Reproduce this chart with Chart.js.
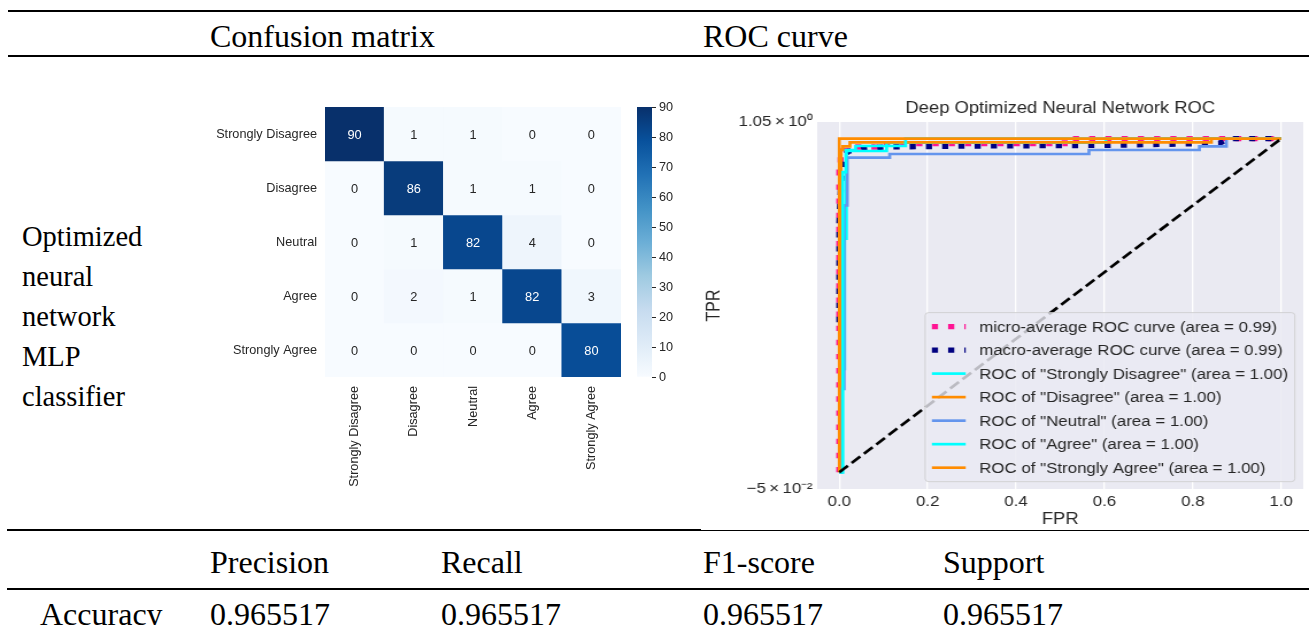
<!DOCTYPE html>
<html>
<head>
<meta charset="utf-8">
<script src="https://cdn.jsdelivr.net/npm/chart.js"></script>
<style>
html,body{margin:0;padding:0;background:#fff;}
body{width:1309px;height:625px;overflow:hidden;position:relative;font-family:"Liberation Serif","Times New Roman",serif;color:#000;}
.t{position:absolute;white-space:nowrap;line-height:1;}
.hl{position:absolute;background:#000;}
canvas{position:absolute;}
</style>
</head>
<body>
<canvas id="cm" width="421" height="400" style="left:200px;top:100px;width:421px;height:400px;"></canvas>
<canvas id="cb" width="60" height="400" style="left:630px;top:100px;width:60px;height:400px;"></canvas>
<canvas id="roc" width="530" height="440" style="left:700px;top:92px;width:609px;height:440px;"></canvas>
<script>
// ---------------- data ----------------
const CM_CLASSES = ['Strongly Disagree', 'Disagree', 'Neutral', 'Agree', 'Strongly Agree'];
const CM_VALUES = [
  [90, 1, 1, 0, 0],
  [0, 86, 1, 1, 0],
  [0, 1, 82, 4, 0],
  [0, 2, 1, 82, 3],
  [0, 0, 0, 0, 80]
];
const CB_TICKS = [0, 10, 20, 30, 40, 50, 60, 70, 80, 90];

const ROC_X_TICKS = [0, 0.2, 0.4, 0.6, 0.8, 1.0];
const ROC_Y_TICKS = [-0.05, 1.05];
const ROC_Y_TICK_LABELS = ['\u22125\u2009\u00d7\u200910\u207b\u00b2', '1.05\u2009\u00d7\u200910\u2070'];

const MICRO_FPR = [0, 0, 0.003, 0.003, 0.01, 0.01, 0.03, 0.03, 0.08, 0.08, 0.51, 0.51, 1];
const MICRO_TPR = [0, 0.9, 0.9, 0.95, 0.95, 0.965, 0.965, 0.975, 0.975, 0.985, 0.985, 1, 1];
const MACRO_FPR = [0, 0, 0.005, 0.01, 0.02, 0.05, 0.1, 0.3, 0.6, 0.86, 0.88, 1];
const MACRO_TPR = [0.45, 0.75, 0.9, 0.945, 0.962, 0.97, 0.975, 0.978, 0.98, 0.986, 1, 1];
const SD_FPR = [0, 0.005, 0.005, 0.012, 0.012, 0.016, 0.016, 0.107, 0.107, 0.603, 0.603, 1];
const SD_TPR = [0, 0, 0.31, 0.31, 0.70, 0.70, 0.963, 0.963, 0.988, 0.988, 1, 1];
const D_FPR = [0, 0.004, 0.004, 0.008, 0.008, 0.024, 0.024, 0.842, 0.842, 1];
const D_TPR = [0, 0, 0.966, 0.966, 0.977, 0.977, 0.989, 0.989, 1, 1];
const N_FPR = [0, 0.006, 0.006, 0.011, 0.011, 0.018, 0.018, 0.114, 0.114, 0.565, 0.565, 0.815, 0.815, 0.876, 0.876, 1];
const N_TPR = [0, 0, 0.25, 0.25, 0.80, 0.80, 0.943, 0.943, 0.954, 0.954, 0.966, 0.966, 0.977, 0.977, 1, 1];
const A_FPR = [0, 0.008, 0.008, 0.015, 0.015, 0.037, 0.037, 0.15, 0.15, 1];
const A_TPR = [0, 0, 0.90, 0.90, 0.966, 0.966, 0.978, 0.978, 1, 1];
const SA_FPR = [0, 0, 1];
const SA_TPR = [0, 1, 1];
const CHANCE_FPR = [0, 1];
const CHANCE_TPR = [0, 1];

const ROC_LABELS = [
  'micro-average ROC curve (area = 0.99)',
  'macro-average ROC curve (area = 0.99)',
  'ROC of "Strongly Disagree" (area = 1.00)',
  'ROC of "Disagree" (area = 1.00)',
  'ROC of "Neutral" (area = 1.00)',
  'ROC of "Agree" (area = 1.00)',
  'ROC of "Strongly Agree" (area = 1.00)',
  ''
];
const ROC_FPRS = [MICRO_FPR, MACRO_FPR, SD_FPR, D_FPR, N_FPR, A_FPR, SA_FPR, CHANCE_FPR];
const ROC_TPRS = [MICRO_TPR, MACRO_TPR, SD_TPR, D_TPR, N_TPR, A_TPR, SA_TPR, CHANCE_TPR];

// ---------------- styles ----------------
const ROC_STYLES = [
  {color: '#ff1493', width: 5.33, dash: [5.33, 8.8]},
  {color: '#000080', width: 5.33, dash: [5.33, 8.8]},
  {color: '#00ffff', width: 2.67, dash: []},
  {color: '#ff8c00', width: 2.67, dash: []},
  {color: '#6495ed', width: 2.67, dash: []},
  {color: '#00ffff', width: 2.67, dash: []},
  {color: '#ff8c00', width: 2.67, dash: []},
  {color: '#000000', width: 2.67, dash: [9.9, 4.3]}
];
const BLUES = ['#f7fbff', '#deebf7', '#c6dbef', '#9ecae1', '#6baed6', '#4292c6', '#2171b5', '#08519c', '#08306b'];
const SANS = "'Liberation Sans', Arial, sans-serif";
const INK = '#262626';

// ---------------- table text & rules ----------------
function rule(x, y, w, h) {
  const d = document.createElement('div');
  d.className = 'hl';
  d.style.left = x + 'px'; d.style.top = y + 'px';
  d.style.width = w + 'px'; d.style.height = h + 'px';
  document.body.appendChild(d);
}
function text(str, x, baseline, size) {
  const d = document.createElement('div');
  d.className = 't';
  d.textContent = str;
  d.style.left = x + 'px';
  d.style.fontSize = size + 'px';
  d.style.top = (baseline - 0.8375 * size) + 'px';
  document.body.appendChild(d);
}
rule(8, 10, 1301, 2);
rule(8, 55, 1301, 2);
rule(7, 529, 694, 2);
rule(701, 530, 608, 1);
rule(7, 588, 1302, 2);

text('Confusion matrix', 210, 46.7, 32);
text('ROC curve', 703, 46.7, 32);
['Optimized', 'neural', 'network', 'MLP', 'classifier'].forEach((s, i) => text(s, 22, 246.7 + 40 * i, 28.5));
const METRIC_NAMES = ['Precision', 'Recall', 'F1-score', 'Support'];
const METRIC_VALUES = ['0.965517', '0.965517', '0.965517', '0.965517'];
const COL_X = [210, 441, 703, 943];
METRIC_NAMES.forEach((s, i) => text(s, COL_X[i], 572.7, 32));
text('Accuracy', 40, 624.3, 32);
METRIC_VALUES.forEach((s, i) => text(s, COL_X[i], 624.3, 32));

// ---------------- colormap helpers ----------------
function hexRgb(h) { return [1, 3, 5].map(i => parseInt(h.substr(i, 2), 16)); }
function bluesRgb(t) {
  t = Math.max(0, Math.min(1, t));
  const n = BLUES.length - 1;
  const p = t * n;
  const i = Math.min(Math.floor(p), n - 1);
  const f = p - i;
  const a = hexRgb(BLUES[i]), b = hexRgb(BLUES[i + 1]);
  return a.map((v, k) => Math.round(v + (b[k] - v) * f));
}
function rgbStr(c) { return 'rgb(' + c.join(',') + ')'; }
function lum(c) {
  const l = c.map(v => { v /= 255; return v <= 0.03928 ? v / 12.92 : Math.pow((v + 0.055) / 1.055, 2.4); });
  return 0.2126 * l[0] + 0.7152 * l[1] + 0.0722 * l[2];
}
const CB_MAX = CB_TICKS[CB_TICKS.length - 1];
const CB_MIN = CB_TICKS[0];

Chart.defaults.font.family = SANS;
Chart.defaults.color = INK;

function noPad(s) { s.paddingTop = 0; s.paddingBottom = 0; s.paddingLeft = 0; s.paddingRight = 0; }

// ---------------- confusion matrix heatmap ----------------
const cmAnnot = {
  id: 'cmAnnot',
  afterDatasetsDraw(chart) {
    const ctx = chart.ctx;
    ctx.save();
    ctx.font = '12.8px ' + SANS;
    ctx.textAlign = 'center';
    ctx.textBaseline = 'middle';
    chart.data.datasets.forEach((ds, di) => {
      const meta = chart.getDatasetMeta(di);
      meta.data.forEach((el, j) => {
        const v = ds.values[j];
        const c = bluesRgb((v - CB_MIN) / (CB_MAX - CB_MIN));
        ctx.fillStyle = lum(c) > 0.408 ? INK : '#ffffff';
        ctx.fillText(String(v), el.x, (el.y + el.base) / 2 + 1);
      });
    });
    ctx.restore();
  }
};

new Chart(document.getElementById('cm'), {
  type: 'bar',
  data: {
    labels: CM_CLASSES,
    datasets: CM_VALUES.map((row, r) => ({
      data: row.map(() => [r - 0.5, r + 0.5]),
      values: row,
      backgroundColor: row.map(v => rgbStr(bluesRgb((v - CB_MIN) / (CB_MAX - CB_MIN)))),
      borderWidth: 0,
      borderSkipped: false,
      grouped: false,
      barPercentage: 1,
      categoryPercentage: 1
    }))
  },
  options: {
    responsive: false,
    animation: false,
    events: [],
    layout: {padding: {top: 7, left: 0, right: 0, bottom: 0}},
    plugins: {legend: {display: false}, tooltip: {enabled: false}},
    scales: {
      x: {
        grid: {display: false, drawTicks: false},
        border: {display: false},
        ticks: {autoSkip: false, maxRotation: 90, minRotation: 90, padding: 9, color: INK, font: {size: 12.7}},
        afterFit: s => { s.height = 123; noPad(s); }
      },
      y: {
        type: 'linear',
        min: -0.5,
        max: CM_CLASSES.length - 0.5,
        reverse: true,
        grid: {display: false, drawTicks: false},
        border: {display: false},
        afterBuildTicks: s => { s.ticks = CM_CLASSES.map((_, i) => ({value: i})); },
        ticks: {callback: v => CM_CLASSES[v], padding: 8, color: INK, font: {size: 12.7}},
        afterFit: s => { s.width = 125; noPad(s); }
      }
    }
  },
  plugins: [cmAnnot]
});

// ---------------- colorbar ----------------
function cbGradient(chart) {
  const a = chart.chartArea;
  if (!a) return BLUES[0];
  const g = chart.ctx.createLinearGradient(0, a.bottom, 0, a.top);
  BLUES.forEach((c, i) => g.addColorStop(i / (BLUES.length - 1), c));
  return g;
}
new Chart(document.getElementById('cb'), {
  type: 'bar',
  data: {
    labels: [''],
    datasets: [{
      data: [[CB_MIN, CB_MAX]],
      backgroundColor: ctx => cbGradient(ctx.chart),
      borderWidth: 0,
      borderSkipped: false,
      barPercentage: 1,
      categoryPercentage: 1
    }]
  },
  options: {
    responsive: false,
    animation: false,
    events: [],
    layout: {padding: {left: 7, top: 7, bottom: 123, right: 0}},
    plugins: {legend: {display: false}, tooltip: {enabled: false}},
    scales: {
      x: {display: false},
      y: {
        position: 'right',
        min: CB_MIN,
        max: CB_MAX,
        afterBuildTicks: s => { s.ticks = CB_TICKS.map(v => ({value: v})); },
        grid: {drawOnChartArea: false, drawTicks: true, tickLength: 4, tickColor: INK, lineWidth: 1},
        border: {display: false},
        ticks: {padding: 3, color: INK, font: {size: 12.7}},
        afterFit: s => { s.width = 38; noPad(s); }
      }
    }
  }
});

// ---------------- ROC ----------------
const rocBg = {
  id: 'rocBg',
  beforeDraw(chart) {
    const {ctx, chartArea: a} = chart;
    ctx.save();
    ctx.fillStyle = '#eaeaf2';
    ctx.fillRect(a.left, a.top, a.right - a.left, a.bottom - a.top);
    ctx.restore();
  }
};
const rocLegend = {
  id: 'rocLegend',
  afterDraw(chart) {
    const {ctx, chartArea: a} = chart;
    const fs = 14.7;
    const items = chart.data.datasets.filter(d => d.label);
    ctx.save();
    ctx.font = fs + 'px ' + SANS;
    const tw = Math.max(...items.map(d => ctx.measureText(d.label).width));
    const pad = 0.4 * fs, handle = 2 * fs, gapT = 0.8 * fs, rowH = 1.1 * fs, sep = 0.5 * fs;
    const w = pad + handle + gapT + tw + pad;
    const h = items.length * rowH + (items.length - 1) * sep + 2 * pad;
    const x1 = a.right - 0.5 * fs, y1 = a.bottom - 0.5 * fs;
    const x0 = x1 - w, y0 = y1 - h;
    const r = 0.2 * fs;
    ctx.beginPath();
    ctx.moveTo(x0 + r, y0);
    ctx.arcTo(x1, y0, x1, y1, r);
    ctx.arcTo(x1, y1, x0, y1, r);
    ctx.arcTo(x0, y1, x0, y0, r);
    ctx.arcTo(x0, y0, x1, y0, r);
    ctx.closePath();
    ctx.fillStyle = 'rgba(234,234,242,0.8)';
    ctx.fill();
    ctx.strokeStyle = 'rgba(204,204,204,0.8)';
    ctx.lineWidth = 1;
    ctx.stroke();
    items.forEach((d, i) => {
      const cy = y0 + pad + i * (rowH + sep) + rowH / 2;
      ctx.beginPath();
      ctx.setLineDash(d.borderDash || []);
      ctx.lineCap = 'butt';
      ctx.strokeStyle = d.borderColor;
      ctx.lineWidth = d.borderWidth;
      ctx.moveTo(x0 + pad, cy);
      ctx.lineTo(x0 + pad + handle, cy);
      ctx.stroke();
      ctx.setLineDash([]);
      ctx.fillStyle = INK;
      ctx.textAlign = 'left';
      ctx.textBaseline = 'middle';
      ctx.fillText(d.label, x0 + pad + handle + gapT, cy + 1);
    });
    ctx.restore();
  }
};

new Chart(document.getElementById('roc'), {
  type: 'scatter',
  data: {
    datasets: ROC_FPRS.map((fpr, i) => ({
      label: ROC_LABELS[i],
      data: fpr.map((x, k) => ({x: x, y: ROC_TPRS[i][k]})),
      showLine: true,
      borderColor: ROC_STYLES[i].color,
      backgroundColor: ROC_STYLES[i].color,
      borderWidth: ROC_STYLES[i].width,
      borderDash: ROC_STYLES[i].dash,
      borderCapStyle: 'butt',
      borderJoinStyle: 'miter',
      pointRadius: 0,
      tension: 0,
      order: ROC_FPRS.length - i
    }))
  },
  options: {
    responsive: false,
    animation: false,
    events: [],
    layout: {padding: {top: 0, right: 5, bottom: 0, left: 0}},
    plugins: {
      legend: {display: false},
      tooltip: {enabled: false},
      title: {
        display: true,
        text: 'Deep Optimized Neural Network ROC',
        fullSize: false,
        color: INK,
        font: {size: 16, weight: 'normal'},
        padding: {top: 7, bottom: 3.8}
      }
    },
    scales: {
      x: {
        type: 'linear',
        min: -0.05,
        max: 1.05,
        afterBuildTicks: s => { s.ticks = ROC_X_TICKS.map(v => ({value: v})); },
        grid: {color: '#ffffff', lineWidth: 1.33, drawTicks: false},
        border: {display: false},
        ticks: {padding: 4, color: INK, font: {size: 14.7}, callback: v => v.toFixed(1)},
        title: {display: true, text: 'FPR', color: INK, font: {size: 16}, padding: {top: 0, bottom: 2.4}},
        afterFit: s => { s.height = 43; }
      },
      y: {
        type: 'linear',
        min: -0.05,
        max: 1.05,
        afterBuildTicks: s => { s.ticks = ROC_Y_TICKS.map(v => ({value: v})); },
        grid: {display: false, drawTicks: false},
        border: {display: false},
        ticks: {padding: 4, color: INK, font: {size: 14.7}, callback: (v, i) => ROC_Y_TICK_LABELS[i]},
        title: {display: true, text: 'TPR', color: INK, font: {size: 16}, padding: {top: 3.4, bottom: 0}},
        afterFit: s => { s.width = 102; }
      }
    }
  },
  plugins: [rocBg, rocLegend]
});
</script>
</body>
</html>
